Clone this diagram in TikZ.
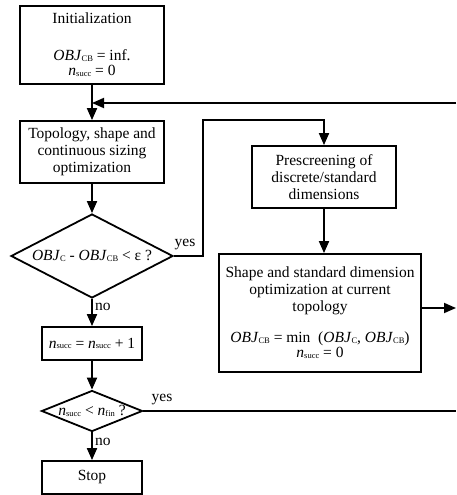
\documentclass[tikz,border=0pt]{standalone}
\usepackage{fontspec}
\setmainfont{Liberation Serif}
\usetikzlibrary{shapes.geometric,arrows.meta}
\newcommand\sbs[1]{\raisebox{-0.8pt}{\fontsize{8.5}{8.5}\selectfont #1}}
\begin{document}
\begin{tikzpicture}[x=1pt,y=-1pt,
  every node/.style={font=\fontsize{15.5}{17}\selectfont},
  box/.style={draw,line width=1.8pt,rectangle,align=center,inner sep=0pt},
  dia/.style={draw,line width=1.8pt,diamond,inner sep=0pt},
  conn/.style={line width=1.8pt},
  arr/.style={conn,-{Triangle[length=12pt,width=10pt]}},
  lbl/.style={inner sep=0pt}]
\useasboundingbox (0,0) rectangle (456,495);
\node[box,minimum width=144pt,minimum height=78pt] (init) at (92,45)
  {Initialization\\[20pt]\textit{OBJ}\sbs{CB} = inf.\\[-2pt]\textit{n}\sbs{succ} = 0};
\node[box,minimum width=144pt,minimum height=62pt] (topo) at (92,152)
  {Topology, shape and\\continuous sizing\\optimization};
\node[dia,minimum width=162pt,minimum height=84pt,aspect=1.93] (d1) at (92,256)
  {\textit{OBJ}\sbs{C} - \textit{OBJ}\sbs{CB} < ε ?};
\node[box,minimum width=100pt,minimum height=33pt] (ns) at (92,343.5)
  {\textit{n}\sbs{succ} = \textit{n}\sbs{succ} + 1};
\node[dia,minimum width=101pt,minimum height=41pt,aspect=2.46] (d2) at (92,411)
  {\textit{n}\sbs{succ} < \textit{n}\sbs{fin} ?};
\node[box,minimum width=100pt,minimum height=33pt] (stop) at (92,477.5) {Stop};
\node[box,minimum width=144pt,minimum height=62pt] (pre) at (324,177)
  {Prescreening of\\discrete/standard\\dimensions};
\node[box,minimum width=202pt,minimum height=118pt] (shape) at (320,313)
  {Shape and standard dimension\\optimization at current\\topology\\[14pt]
   \textit{OBJ}\sbs{CB} = min\ \ (\textit{OBJ}\sbs{C}, \textit{OBJ}\sbs{CB})\\[-2pt]\textit{n}\sbs{succ} = 0};
\coordinate (fbR) at (456,103);
\coordinate (fbL) at (92,103);
\coordinate (c1) at (203,120);
\coordinate (sR) at (456,308);
\coordinate (d2R) at (456,411);
\draw[arr] (init) -- (topo);
\draw[arr] (fbR) -- (fbL);
\draw[arr] (topo) -- (d1);
\draw[arr] (d1.east) -| (c1) -| (pre.north);
\node[lbl] (yes1) at (185,245) {yes};
\draw[arr] (pre.south) -- (pre.south |- shape.north);
\draw[arr] (shape.east |- sR) -- (sR);
\draw[arr] (d1) -- (ns);
\node[lbl,anchor=west] (no1) at (95,307) {no};
\draw[arr] (ns) -- (d2);
\draw[conn] (d2.east) -- (d2R);
\node[lbl] (yes2) at (162,400) {yes};
\draw[arr] (d2) -- (stop);
\node[lbl,anchor=west] (no2) at (95,442) {no};
\end{tikzpicture}
\end{document}
